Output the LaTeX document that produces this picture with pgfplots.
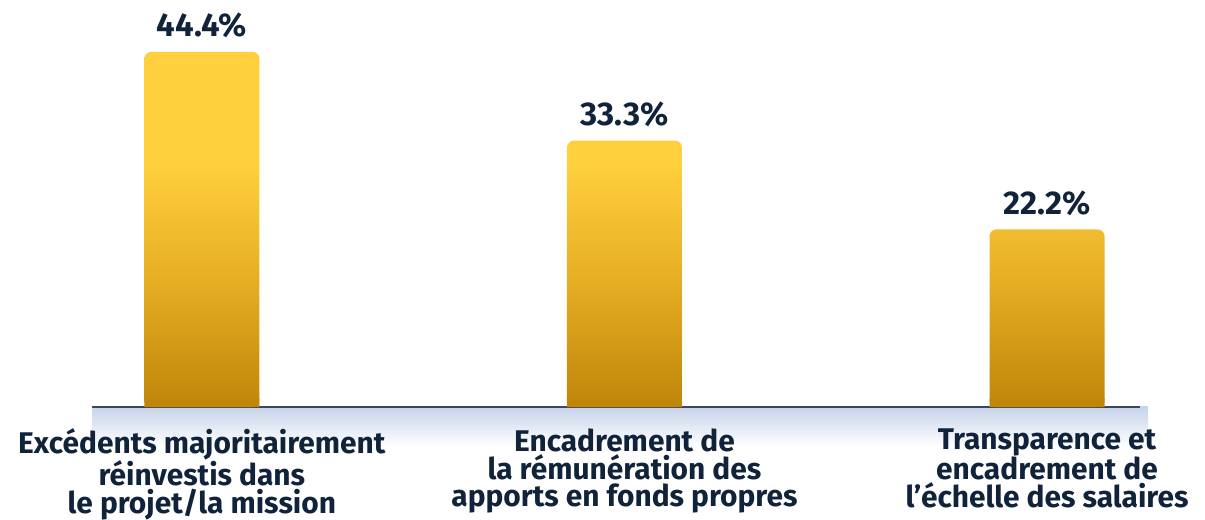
\documentclass[border=0pt]{standalone}
\usepackage{fontspec}
\setmainfont{Fira Sans}
\usepackage{pgfplots}
\pgfplotsset{compat=1.18}
\definecolor{navy}{HTML}{10233A}
\definecolor{bartop}{HTML}{FFCF3D}
\definecolor{barmid}{HTML}{E4AC22}
\definecolor{barbot}{HTML}{BF860A}
\definecolor{linec}{HTML}{3C4658}
\definecolor{glow}{HTML}{C8D4EB}
\pgfdeclareverticalshading{bargrad}{100bp}{color(0bp)=(barbot); color(25bp)=(barbot); color(42bp)=(barmid); color(59bp)=(bartop); color(100bp)=(bartop)}
\begin{document}
\begin{tikzpicture}
\useasboundingbox (0,0) rectangle (1205bp,520bp);
\fill[top color=glow, bottom color=white, draw=none] (92bp,113bp) rectangle (1148bp,73bp);
\begin{axis}[
  at={(92bp,113bp)}, anchor=south west,
  scale only axis, width=1048bp, height=407bp,
  xmin=-0.26, xmax=2.22, ymin=0, ymax=50.875,
  hide y axis, axis x line*=bottom,
  x axis line style={draw=linec, line width=2bp, -},
  xtick=data, xtick style={draw=none},
  xticklabels={{Excédents majoritairement\\réinvestis dans\\le projet/la mission},
               {Encadrement de\\la rémunération des\\apports en fonds propres},
               {Transparence et\\encadrement de\\l’échelle des salaires}},
  xticklabel style={font=\bfseries\fontsize{30}{28}\selectfont, text=navy, align=center, anchor=north, inner sep=0pt, yshift=-17bp},
  ybar, bar width=115bp,
  clip=false,
  /pgf/number format/assume math mode=true,
]
\addplot[draw=none, shade, shading=bargrad, rounded corners=7bp, bar shift=0pt,
  nodes near coords={\pgfmathprintnumber[fixed,fixed zerofill,precision=1]{\pgfplotspointmeta}\%},
  every node near coord/.append style={font=\bfseries\fontsize{33}{36}\selectfont, text=navy, anchor=base, yshift=15bp}]
  coordinates {(0,44.4) (1,33.3) (2,22.2)};
\addplot[fill=barbot, draw=none, bar shift=0pt] coordinates {(0,1) (1,1) (2,1)};
\end{axis}
\end{tikzpicture}
\end{document}
